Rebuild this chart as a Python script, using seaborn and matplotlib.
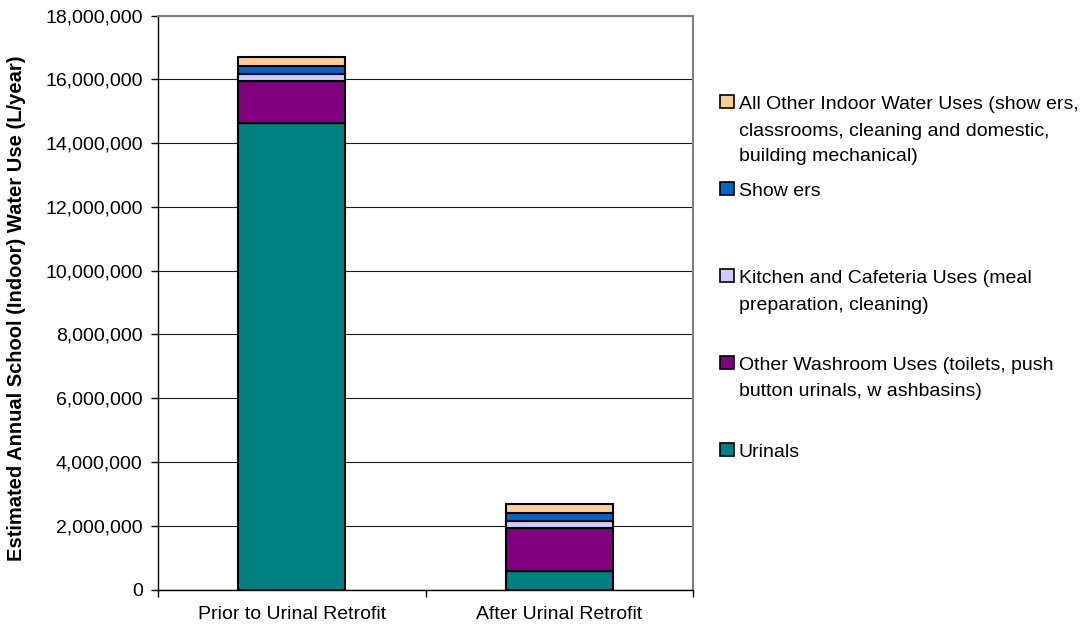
import matplotlib
matplotlib.use("Agg")
import matplotlib.pyplot as plt
from matplotlib.patches import Patch
from matplotlib.ticker import FuncFormatter, FixedLocator
import numpy as np
import seaborn as sns

# Scenarios on the x axis
categories = ["Prior to Urinal Retrofit", "After Urinal Retrofit"]

# Annual indoor water use by end use (L/year), stacked bottom to top
urinals = [14620000, 590000]
other_washroom = [1320000, 1340000]
kitchen = [240000, 230000]
showers = [240000, 230000]
all_other = [280000, 290000]

series_labels = [
    "Urinals",
    "Other Washroom Uses (toilets, push\nbutton urinals, w ashbasins)",
    "Kitchen and Cafeteria Uses (meal\npreparation, cleaning)",
    "Show ers",
    "All Other Indoor Water Uses (show ers,\nclassrooms, cleaning and domestic,\nbuilding mechanical)",
]
series_values = [urinals, other_washroom, kitchen, showers, all_other]
series_colors = ["#008080", "#800080", "#CCCCFF", "#0066CC", "#FFCC99"]

y_ticks = list(range(0, 18000001, 2000000))

sns.set_theme(style="white")
plt.rcParams["font.family"] = ["Liberation Sans", "DejaVu Sans"]

W, H = 1091, 631
fig = plt.figure(figsize=(W / 100, H / 100), dpi=100)
ax = fig.add_axes([158 / W, 1 - 589.5 / H, (693 - 158) / W, (589.5 - 15.7) / H])

bottom = np.zeros(len(categories))
for vals, col in zip(series_values, series_colors):
    sns.barplot(x=categories, y=vals, order=categories, bottom=bottom, color=col,
                width=0.4, edgecolor="black", linewidth=1.5, saturation=1,
                ax=ax, zorder=3)
    bottom = bottom + np.array(vals)

ax.set_ylim(0, 18000000)
ax.set_xlim(-0.5, 1.5)
ax.set_yticks(y_ticks)
ax.yaxis.set_major_formatter(FuncFormatter(lambda v, p: f"{int(v):,}"))
ax.grid(axis="y", color="#1a1a1a", linewidth=0.8, zorder=0)
ax.set_axisbelow(True)

for s in ["left", "bottom"]:
    ax.spines[s].set_color("black")
    ax.spines[s].set_linewidth(1.0)
for s in ["top", "right"]:
    ax.spines[s].set_color("#808080")
    ax.spines[s].set_linewidth(1.5)

ax.tick_params(axis="y", which="major", left=True, length=5, width=1,
               color="black", pad=6, labelsize=14, labelcolor="black")
ax.tick_params(axis="x", which="major", bottom=False, length=0, pad=12,
               labelsize=14, labelcolor="black")
ax.xaxis.set_minor_locator(FixedLocator([-0.5, 0.5, 1.5]))
ax.tick_params(axis="x", which="minor", bottom=True, length=5, width=1,
               color="black")

ax.set_xlabel("")
ax.set_ylabel("Estimated Annual School (Indoor) Water Use (L/year)",
              fontsize=14.5, fontweight="bold", color="black")
ax.yaxis.set_label_coords((26 - 158) / (693 - 158), 0.49)

# Legend: one entry per series, top entry is the top of the stack
fs = 14
fs_px = fs * 100 / 72
entries = list(zip(series_labels, series_colors))[::-1]
legends = []
for i, (lab, col) in enumerate(entries):
    lines = lab.split("\n")
    handle = Patch(facecolor=col, edgecolor="black", linewidth=1.2)
    cy = 104 + 87 * i
    leg = fig.legend([handle], [lines[0]], loc="center left",
                     bbox_to_anchor=(720 / W, 1 - cy / H), frameon=False,
                     borderpad=0, borderaxespad=0, fontsize=fs,
                     handlelength=14 / fs_px, handleheight=12 / fs_px,
                     handletextpad=5 / fs_px)
    leg.get_texts()[0].set_color("black")
    legends.append((leg, lines, i))

fig.canvas.draw()
for leg, lines, i in legends:
    x0 = leg.get_texts()[0].get_window_extent().x0 / W
    for k, line in enumerate(lines[1:], start=1):
        baseline = 110 + 87 * i + 25.5 * k
        fig.text(x0, 1 - baseline / H, line, fontsize=fs, va="baseline",
                 ha="left", color="black")

fig.savefig("out.png", dpi=100, facecolor="white")
